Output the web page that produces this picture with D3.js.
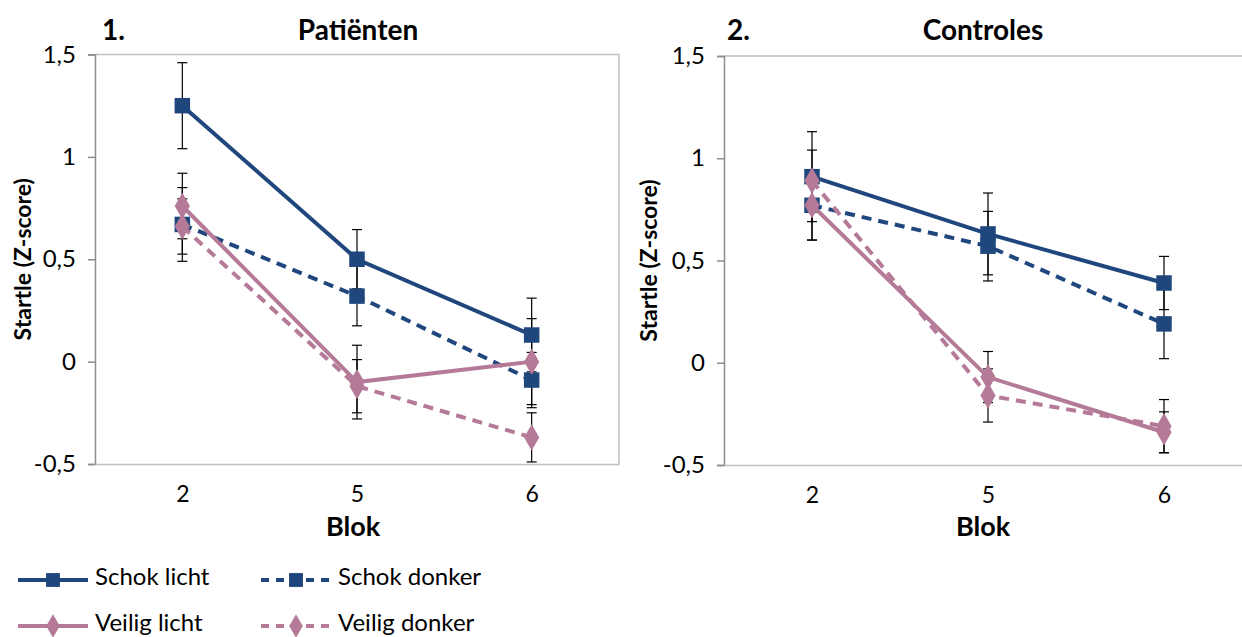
<!DOCTYPE html>
<html>
<head>
<meta charset="utf-8">
<script src="https://cdn.jsdelivr.net/npm/d3@7"></script>
<style>
  body { margin: 0; background: #fff; }
  text { font-family: Lato, "Open Sans", sans-serif; fill: #000; }
</style>
</head>
<body>
<div id="chart"></div>
<script>
// blocks on the x axis and series names
let blocks = ["2", "5", "6"];
let seriesNames = ["Schok licht", "Schok donker", "Veilig licht", "Veilig donker"];
let yTicks = [-0.5, 0, 0.5, 1, 1.5];

// means per series (rows) per block (columns)
let patientValues = [
  [1.25, 0.50, 0.13],
  [0.67, 0.32, -0.09],
  [0.76, -0.10, 0.00],
  [0.66, -0.12, -0.37]
];
let patientErrors = [
  [0.21, 0.145, 0.18],
  [0.18, 0.145, 0.135],
  [0.16, 0.18, 0.21],
  [0.135, 0.13, 0.12]
];
let controlValues = [
  [0.91, 0.63, 0.39],
  [0.77, 0.57, 0.19],
  [0.77, -0.07, -0.34],
  [0.89, -0.16, -0.31]
];
let controlErrors = [
  [0.22, 0.20, 0.13],
  [0.17, 0.17, 0.17],
  [0.17, 0.125, 0.10],
  [0.15, 0.13, 0.13]
];

let svgWidth = 1242;
let svgHeight = 637;

let navy = "#1f477d";
let pink = "#b47a98";
let seriesColor = [navy, navy, pink, pink];
let seriesDash = [null, "10,7", null, "10,7"];
let seriesShape = [d3.symbolSquare, d3.symbolSquare, d3.symbolDiamond, d3.symbolDiamond];
let seriesSize = [240, 240, 200, 200];

let svg = d3.select("#chart")
  .append("svg")
  .attr("width", svgWidth)
  .attr("height", svgHeight);

let fmt = v => String(v).replace(".", ",");

// draw one panel
function drawPanel(opts) {
  let x = d3.scalePoint()
    .domain(blocks)
    .range([opts.left, opts.right])
    .padding(0.5);
  let y = d3.scaleLinear()
    .domain([-0.5, 1.5])
    .range([opts.bottom, opts.top]);

  let g = svg.append("g");

  // plot border (top and right)
  g.append("path")
    .attr("d", `M${opts.left},${opts.top}H${opts.right}V${opts.bottom}`)
    .attr("fill", "none")
    .attr("stroke", "#c0c0c0")
    .attr("stroke-width", 1.5);

  // y axis
  let leftAxis = d3.axisLeft(y)
    .tickValues(yTicks)
    .tickSize(7)
    .tickPadding(12)
    .tickFormat(fmt);
  let ya = g.append("g")
    .attr("transform", `translate(${opts.left},0)`)
    .call(leftAxis);
  ya.select(".domain").attr("stroke", "#8c8c8c").attr("stroke-width", 1.5);
  ya.selectAll(".tick line").attr("stroke", "#8c8c8c").attr("stroke-width", 1.5);
  ya.selectAll(".tick text")
    .style("font-size", "24px")
    .attr("fill", "#222");

  // x axis
  let bottomAxis = d3.axisBottom(x)
    .tickSize(0)
    .tickPadding(22);
  let xa = g.append("g")
    .attr("transform", `translate(0,${opts.bottom})`)
    .call(bottomAxis);
  xa.select(".domain").attr("stroke", "#c0c0c0").attr("stroke-width", 1.5);
  xa.selectAll(".tick text")
    .style("font-size", "23px")
    .attr("fill", "#222");

  // error bars
  opts.values.forEach((row, s) => {
    row.forEach((v, i) => {
      let cx = x(blocks[i]);
      let e = opts.errors[s][i];
      let eb = g.append("g").attr("stroke", "#000").attr("stroke-width", 1.2);
      eb.append("line").attr("x1", cx).attr("x2", cx).attr("y1", y(v + e)).attr("y2", y(v - e));
      eb.append("line").attr("x1", cx - 5).attr("x2", cx + 5).attr("y1", y(v + e)).attr("y2", y(v + e));
      eb.append("line").attr("x1", cx - 5).attr("x2", cx + 5).attr("y1", y(v - e)).attr("y2", y(v - e));
    });
  });

  // lines and markers
  let line = d3.line()
    .x((d, i) => x(blocks[i]))
    .y(d => y(d));
  opts.values.forEach((row, s) => {
    g.append("path")
      .datum(row)
      .attr("d", line)
      .attr("fill", "none")
      .attr("stroke", seriesColor[s])
      .attr("stroke-width", 4)
      .attr("stroke-dasharray", seriesDash[s]);
    g.selectAll(null)
      .data(row)
      .enter()
      .append("path")
      .attr("transform", (d, i) => `translate(${x(blocks[i])},${y(d)})`)
      .attr("d", d3.symbol().type(seriesShape[s]).size(seriesSize[s]))
      .attr("fill", seriesColor[s]);
  });

  // titles
  g.append("text")
    .attr("x", opts.numX)
    .attr("y", 40)
    .style("font-size", "28px")
    .style("font-weight", "bold")
    .text(opts.num);
  g.append("text")
    .attr("x", opts.titleX)
    .attr("y", 40)
    .attr("text-anchor", "middle")
    .style("font-size", "28px")
    .style("font-weight", "bold")
    .text(opts.title);

  // axis labels
  g.append("text")
    .attr("transform", `translate(${opts.yLabelX},${(opts.top + opts.bottom) / 2}) rotate(-90)`)
    .attr("text-anchor", "middle")
    .style("font-size", "23px")
    .style("font-weight", "bold")
    .text("Startle (Z-score)");
  g.append("text")
    .attr("x", opts.blokX)
    .attr("y", 536)
    .attr("text-anchor", "middle")
    .style("font-size", "27px")
    .style("font-weight", "bold")
    .text("Blok");
}

drawPanel({
  left: 95, right: 619, top: 54.5, bottom: 464,
  values: patientValues, errors: patientErrors,
  num: "1.", numX: 102, title: "Patiënten", titleX: 358,
  yLabelX: 31, blokX: 353
});

drawPanel({
  left: 724, right: 1252, top: 56, bottom: 465,
  values: controlValues, errors: controlErrors,
  num: "2.", numX: 727, title: "Controles", titleX: 983,
  yLabelX: 657, blokX: 983
});

// legend
let legendX = [18, 261];
let legendY = [580, 626];
seriesNames.forEach((name, s) => {
  let lx = legendX[s % 2];
  let ly = legendY[Math.floor(s / 2)];
  let lg = svg.append("g");
  lg.append("line")
    .attr("x1", lx).attr("x2", lx + 70)
    .attr("y1", ly).attr("y2", ly)
    .attr("stroke", seriesColor[s])
    .attr("stroke-width", 4)
    .attr("stroke-dasharray", seriesDash[s] ? "8,7" : null);
  lg.append("path")
    .attr("transform", `translate(${lx + 35},${ly})`)
    .attr("d", d3.symbol().type(seriesShape[s]).size(seriesSize[s] * 0.8))
    .attr("fill", seriesColor[s]);
  lg.append("text")
    .attr("x", lx + 77)
    .attr("y", ly + 5)
    .style("font-size", "24px")
    .attr("fill", "#222")
    .text(name);
});
</script>
</body>
</html>
